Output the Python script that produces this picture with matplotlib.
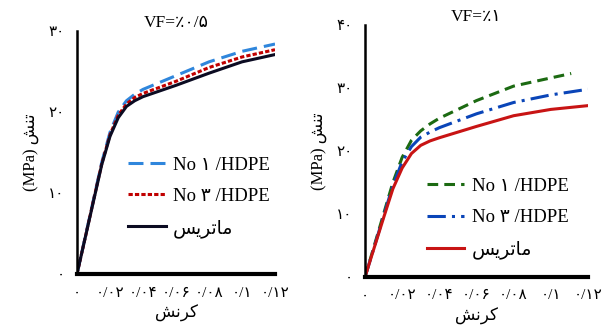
import matplotlib
matplotlib.use('Agg')
import matplotlib.pyplot as plt

# Persian text is written in visual order with presentation forms,
# since matplotlib does no shaping / bidi on its own
matrix_lbl = '\uFEB2\uFBFE\uFEAE\uFE97\uFE8E\uFEE3'   # ماتریس
strain_lbl = '\uFEB6\uFEE7\uFEAE\uFB90'               # کرنش
stress_lbl = '(MPa) \uFEB6\uFEE8\uFE97'               # تنش (MPa)
no1_lbl = 'No \u06F1 /HDPE'
no3_lbl = 'No \u06F3 /HDPE'
title_l = 'VF=\u066A\u06F0/\u06F5'
title_r = 'VF=\u066A\u06F1'

xticks = [0, 0.02, 0.04, 0.06, 0.08, 0.10, 0.12]
xtick_lbls = ['\u06F0', '\u06F0/\u06F0\u06F2', '\u06F0/\u06F0\u06F4', '\u06F0/\u06F0\u06F6',
              '\u06F0/\u06F0\u06F8', '\u06F0/\u06F1', '\u06F0/\u06F1\u06F2']
yticks_l = [0, 10, 20, 30]
ytick_lbls_l = ['\u06F0', '\u06F1\u06F0', '\u06F2\u06F0', '\u06F3\u06F0']
yticks_r = [0, 10, 20, 30, 40]
ytick_lbls_r = ['\u06F0', '\u06F1\u06F0', '\u06F2\u06F0', '\u06F3\u06F0', '\u06F4\u06F0']

# Left panel, VF = 0.5 %
strain = [0, 0.005, 0.01, 0.015, 0.02, 0.025, 0.03, 0.035, 0.04, 0.06, 0.08, 0.10, 0.12]
no1_l = [0, 4.6, 9.2, 13.8, 17.5, 20.0, 21.4, 22.2, 22.8, 24.5, 26.2, 27.5, 28.4]
no3_l = [0, 4.5, 9.1, 13.6, 17.2, 19.6, 21.0, 21.8, 22.3, 23.8, 25.5, 26.8, 27.7]
mat_l = [0, 4.5, 9.0, 13.5, 17.0, 19.3, 20.7, 21.4, 21.9, 23.3, 24.8, 26.2, 27.1]

# Right panel, VF = 1 %
strain_g = [0, 0.005, 0.01, 0.015, 0.02, 0.025, 0.03, 0.035, 0.04, 0.06, 0.08, 0.10, 0.111]
no1_r = [0, 5.0, 10.0, 15.0, 19.0, 21.7, 23.2, 24.3, 25.2, 28.0, 30.3, 31.6, 32.3]
no3_r = [0, 4.8, 9.7, 14.5, 18.3, 20.7, 22.2, 23.0, 23.7, 25.9, 27.7, 28.9, 29.8]
mat_r = [0, 4.7, 9.4, 14.0, 17.3, 19.6, 20.9, 21.6, 22.1, 23.9, 25.6, 26.6, 27.2]

fam = ['Liberation Serif', 'DejaVu Sans']
plt.rcParams['font.family'] = fam

fig = plt.figure(figsize=(6.14, 3.36), dpi=100)
axL = fig.add_axes([0.1254, 0.1845, 0.3225, 0.723])
axR = fig.add_axes([0.5945, 0.1756, 0.363, 0.75])

axL.plot(strain, no1_l, color='#2f86dc', lw=2.2, dashes=(4.9, 2.3), label=no1_lbl)
axL.plot(strain, no3_l, color='#c00000', lw=2.2, dashes=(1.4, 0.7), label=no3_lbl)
axL.plot(strain, mat_l, color='#0b0b22', lw=2.2, label=matrix_lbl)
axL.set_ylim(0, 29.3)
axL.set_yticks(yticks_l)
axL.set_yticklabels(ytick_lbls_l)

axR.plot(strain_g, no1_r, color='#1c6a12', lw=2.2, dashes=(3.5, 2), label=no1_lbl)
axR.plot(strain, no3_r, color='#0a45b8', lw=2.2, dashes=(6, 2, 1, 2), label=no3_lbl)
axR.plot(strain, mat_r, color='#c81414', lw=2.2, label=matrix_lbl)
axR.set_ylim(0, 39.7)
axR.set_yticks(yticks_r)
axR.set_yticklabels(ytick_lbls_r)

legend_pos = {axL: (1.06, 0.08), axR: (0.99, 0.005)}

for ax, t in [(axL, title_l), (axR, title_r)]:
    ax.set_xlim(0, 0.12)
    ax.set_xticks(xticks)
    ax.set_xticklabels(xtick_lbls)
    ax.tick_params(length=0, labelsize=11)
    ax.tick_params(axis='x', pad=9)
    ax.tick_params(axis='y', pad=9)
    ax.spines['top'].set_visible(False)
    ax.spines['right'].set_visible(False)
    ax.spines['left'].set_linewidth(1.8)
    ax.spines['bottom'].set_linewidth(3)
    ax.set_xlabel(strain_lbl, fontsize=12, labelpad=4)
    ax.set_ylabel(stress_lbl, fontsize=12, labelpad=6)
    ax.set_title(t, fontsize=12.5, pad=3)
    ax.legend(frameon=False, loc='lower right', bbox_to_anchor=legend_pos[ax],
              fontsize=13.5, handlelength=2.0, labelspacing=0.75, handletextpad=0.4)

fig.savefig('out.png', dpi=100)
